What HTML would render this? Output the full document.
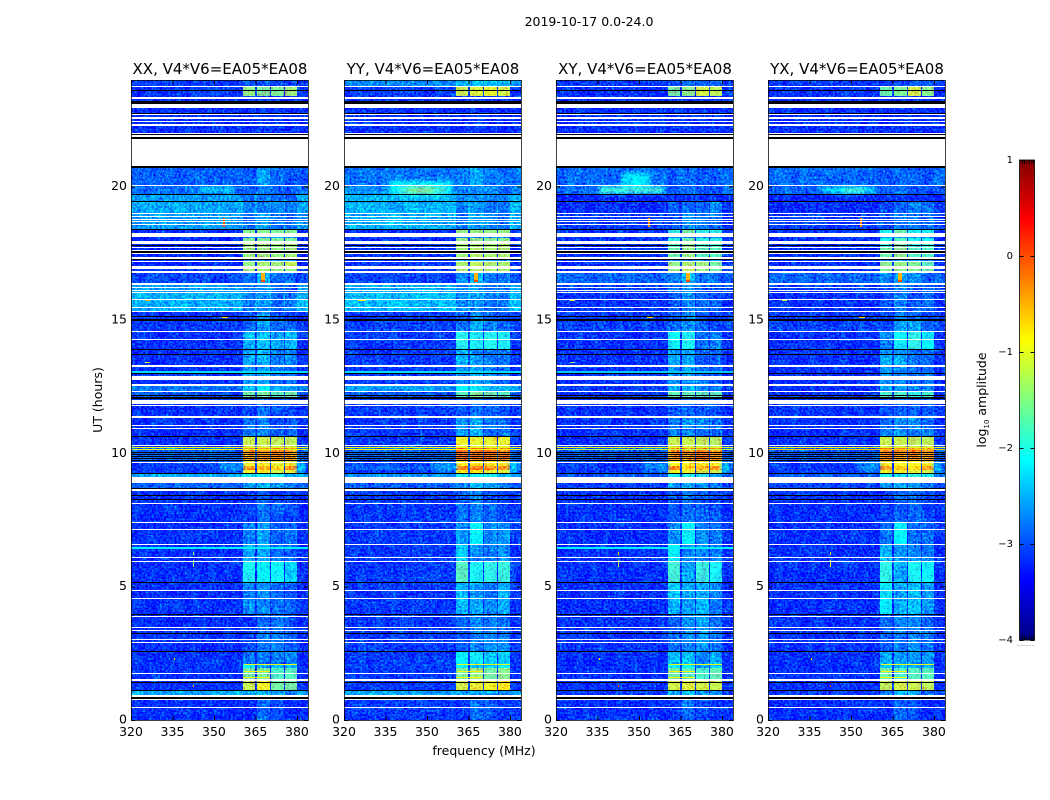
<!DOCTYPE html>
<html lang="en">
<head>
<meta charset="utf-8">
<title>2019-10-17 dynamic spectra</title>
<style>
html,body{margin:0;padding:0;background:#fff;width:1050px;height:800px;overflow:hidden}
svg{display:block}
text{font-family:"DejaVu Sans","Liberation Sans",sans-serif;fill:#000}
</style>
</head>
<body>
<svg id="figure" xmlns="http://www.w3.org/2000/svg" width="1050" height="800" viewBox="0 0 1050 800">
<defs>
<filter id="soften" x="-30%" y="-80%" width="160%" height="260%" color-interpolation-filters="sRGB"><feGaussianBlur stdDeviation="2.2"/></filter>
<filter id="speckle-0" x="131" y="80" width="177" height="640" filterUnits="userSpaceOnUse" color-interpolation-filters="sRGB"><feTurbulence type="fractalNoise" baseFrequency="0.48" numOctaves="2" seed="3" result="n"/><feColorMatrix in="n" type="matrix" values="0 0 0 0 .5  1 0 0 0 0  .5 0 0 0 .33  0 0 0 0 1" result="m"/><feTurbulence type="fractalNoise" baseFrequency="0.12 0.07" numOctaves="2" seed="5" result="c"/><feColorMatrix in="c" type="matrix" values="0 0 0 0 .5  1 0 0 0 0  0 0 0 0 .5  0 0 0 0 1" result="d"/><feComposite in="SourceGraphic" in2="m" operator="arithmetic" k1="0" k2="1" k3="1.2" k4="-0.6" result="s"/><feComposite in="s" in2="d" operator="arithmetic" k1="0" k2="1" k3="0.4" k4="-0.2"/></filter>
<filter id="speckle-1" x="344" y="80" width="177" height="640" filterUnits="userSpaceOnUse" color-interpolation-filters="sRGB"><feTurbulence type="fractalNoise" baseFrequency="0.48" numOctaves="2" seed="11" result="n"/><feColorMatrix in="n" type="matrix" values="0 0 0 0 .5  1 0 0 0 0  .5 0 0 0 .33  0 0 0 0 1" result="m"/><feTurbulence type="fractalNoise" baseFrequency="0.12 0.07" numOctaves="2" seed="13" result="c"/><feColorMatrix in="c" type="matrix" values="0 0 0 0 .5  1 0 0 0 0  0 0 0 0 .5  0 0 0 0 1" result="d"/><feComposite in="SourceGraphic" in2="m" operator="arithmetic" k1="0" k2="1" k3="1.2" k4="-0.6" result="s"/><feComposite in="s" in2="d" operator="arithmetic" k1="0" k2="1" k3="0.4" k4="-0.2"/></filter>
<filter id="speckle-2" x="556" y="80" width="177" height="640" filterUnits="userSpaceOnUse" color-interpolation-filters="sRGB"><feTurbulence type="fractalNoise" baseFrequency="0.48" numOctaves="2" seed="23" result="n"/><feColorMatrix in="n" type="matrix" values="0 0 0 0 .5  1 0 0 0 0  .5 0 0 0 .33  0 0 0 0 1" result="m"/><feTurbulence type="fractalNoise" baseFrequency="0.12 0.07" numOctaves="2" seed="29" result="c"/><feColorMatrix in="c" type="matrix" values="0 0 0 0 .5  1 0 0 0 0  0 0 0 0 .5  0 0 0 0 1" result="d"/><feComposite in="SourceGraphic" in2="m" operator="arithmetic" k1="0" k2="1" k3="1.2" k4="-0.6" result="s"/><feComposite in="s" in2="d" operator="arithmetic" k1="0" k2="1" k3="0.4" k4="-0.2"/></filter>
<filter id="speckle-3" x="768" y="80" width="177" height="640" filterUnits="userSpaceOnUse" color-interpolation-filters="sRGB"><feTurbulence type="fractalNoise" baseFrequency="0.48" numOctaves="2" seed="37" result="n"/><feColorMatrix in="n" type="matrix" values="0 0 0 0 .5  1 0 0 0 0  .5 0 0 0 .33  0 0 0 0 1" result="m"/><feTurbulence type="fractalNoise" baseFrequency="0.12 0.07" numOctaves="2" seed="41" result="c"/><feColorMatrix in="c" type="matrix" values="0 0 0 0 .5  1 0 0 0 0  0 0 0 0 .5  0 0 0 0 1" result="d"/><feComposite in="SourceGraphic" in2="m" operator="arithmetic" k1="0" k2="1" k3="1.2" k4="-0.6" result="s"/><feComposite in="s" in2="d" operator="arithmetic" k1="0" k2="1" k3="0.4" k4="-0.2"/></filter>
</defs>
<rect x="0" y="0" width="1050" height="800" fill="#fff"/>
<text x="589" y="26" font-size="12.5" text-anchor="middle">2019-10-17 0.0-24.0</text>
<text x="484" y="755" font-size="12.5" text-anchor="middle">frequency (MHz)</text>
<text transform="translate(102,400) rotate(-90)" font-size="12.5" text-anchor="middle">UT (hours)</text>
<text transform="translate(986,400) rotate(-90)" font-size="12.5" text-anchor="middle">log<tspan font-size="7" dy="3">10</tspan><tspan dy="-3"> amplitude</tspan></text>
</svg>
<script>
// Axis data
const panelTitles = ["XX, V4*V6=EA05*EA08", "YY, V4*V6=EA05*EA08", "XY, V4*V6=EA05*EA08", "YX, V4*V6=EA05*EA08"];
const freqTicks = [320, 335, 350, 365, 380];
const utTicks = [0, 5, 10, 15, 20];
const colorTicks = [1, 0, -1, -2, -3, -4];
const colorTickLabels = ["1", "0", "\u22121", "\u22122", "\u22123", "\u22124"];

// Spectral windows in MHz
const spwEdges = [[360.5, 365.0], [365.6, 370.1], [370.7, 375.2], [375.8, 380.2]];

// Time band edges in UT hours, descending (55 bands)
const bandEdges = [24, 23.738, 23.4, 22.95, 22.5, 22.05, 21.8, 20.738, 20.063, 19.688, 19.425, 19.013, 18.413, 18.113, 17.963, 17.7, 17.325, 17.025, 16.8, 16.388, 16.013, 15.3, 15, 14.588, 13.913, 13.275, 12.563, 12.3, 12.038, 11.85, 11.325, 10.65, 10.238, 9.713, 9.638, 9.525, 9.375, 9.244, 9.113, 8.888, 8.625, 8.1, 7.388, 6.563, 5.925, 5.175, 3.938, 3.225, 2.588, 2.1, 1.95, 1.5, 1.088, 0.9, 0.45, 0];

// log10 amplitude per band: [outside windows, window 1, window 2, window 3, window 4]
const levelsXX = [
[-3,-2.7,-2.7,-2.8,-2.8],[-3,-1.4,-1.5,-1.5,-1.35],[-3.05,-2.9,-2.8,-2.9,-2.9],[-3.05,-2.95,-2.85,-2.9,-2.95],[-3.05,-2.95,-2.85,-2.9,-2.95],
[-3.1,-3,-3,-3,-3],[-3.1,-3,-3,-3,-3],[-2.8,-2.7,-2.4,-2.55,-2.7],[-2.75,-2.6,-2.5,-2.6,-2.7],[-2.5,-2.6,-2.5,-2.55,-2.65],
[-2.45,-2.55,-2.45,-2.5,-2.6],[-2.5,-2.6,-2.35,-2.55,-2.6],[-3.05,-1.5,-1.45,-1.5,-1.5],[-3.1,-1.5,-1.5,-1.5,-1.5],[-3.1,-1.35,-1.35,-1.4,-1.35],
[-3.1,-1.4,-1.35,-1.4,-1.35],[-3.1,-1.4,-1.3,-1.35,-1.2],[-3,-1.35,-1.35,-1.4,-1.4],[-2.95,-2.5,-2.3,-2.6,-2.6],[-2.5,-2.55,-2.4,-2.6,-2.7],
[-2.4,-2.55,-2.4,-2.6,-2.6],[-3.05,-2.7,-2.45,-2.7,-2.8],[-3,-2.6,-2.35,-2.6,-2.6],[-3.05,-2.25,-2.15,-2.3,-2.25],[-3.05,-2.3,-2.2,-2.5,-2.5],
[-3.05,-2.4,-2.3,-2.6,-2.6],[-2.7,-2.2,-2.1,-2.3,-2.3],[-2.9,-1.6,-1.55,-1.7,-1.6],[-3,-2.8,-2.6,-2.7,-2.7],[-3.05,-2.8,-2.6,-2.75,-2.8],
[-3.05,-2.6,-2.5,-2.65,-2.7],[-3.05,-1.15,-1.15,-1.2,-1.2],[-2.8,-0.4,-0.4,-0.35,-0.4],[-3,-0.95,-0.95,-0.95,-0.95],[-3,-0.9,-0.9,-1,-0.9],
[-3,-0.4,-0.55,-0.7,-0.35],[-3,-0.9,-0.9,-1.1,-1],[-2.4,-2,-2,-1.95,-2.2],[-2.4,-2.4,-2.4,-2.4,-2.4],[-2.8,-2.4,-2.2,-2.4,-2.5],
[-3.05,-2.85,-2.7,-2.8,-2.85],[-3.05,-2.8,-2.6,-2.7,-2.75],[-3.05,-2.5,-2.35,-2.65,-2.6],[-3.05,-2.3,-2.3,-2.6,-2.65],[-3.05,-2,-2.1,-2.05,-2.15],
[-3.05,-2.5,-2.45,-2.6,-2.65],[-3.05,-2.85,-2.6,-2.55,-2.75],[-3.05,-2.8,-2.55,-2.5,-2.7],[-3.05,-2.55,-2.55,-2.55,-2.5],[-3.05,-2.1,-2.2,-2.3,-2.2],
[-3.05,-1.6,-1.55,-1.75,-1.7],[-3.05,-1.15,-0.95,-1.55,-1.55],[-2.45,-2.4,-2.3,-2.4,-2.5],[-3.05,-2.9,-2.6,-2.75,-2.9],[-3.05,-2.95,-2.65,-2.75,-2.95]];
const levelsYY = [
[-2.6,-2.2,-2.2,-2.2,-2.2],[-3,-1.15,-1.05,-1,-1.1],[-3.05,-2.9,-2.8,-2.9,-2.9],[-3.05,-2.95,-2.85,-2.9,-2.95],[-3.05,-2.95,-2.85,-2.9,-2.95],
[-3.1,-3,-3,-3,-3],[-3.1,-3,-3,-3,-3],[-2.7,-2.5,-2.3,-2.5,-2.6],[-2.6,-2.5,-2.4,-2.5,-2.6],[-2.4,-2.45,-2.4,-2.5,-2.5],
[-2.4,-2.5,-2.4,-2.5,-2.55],[-2.4,-2.55,-2.35,-2.5,-2.55],[-3.05,-1.4,-1.4,-1.4,-1.4],[-3.05,-1.4,-1.4,-1.45,-1.45],[-3.05,-1.3,-1.3,-1.3,-1.3],
[-3.05,-1.35,-1.25,-1.3,-1.3],[-3,-1.3,-1.2,-1.3,-1.3],[-3,-1.3,-1.25,-1.3,-1.3],[-2.95,-2.4,-2.2,-2.5,-2.5],[-2.45,-2.5,-2.4,-2.6,-2.6],
[-2.35,-2.5,-2.4,-2.55,-2.55],[-3,-2.6,-2.45,-2.6,-2.7],[-2.95,-2.55,-2.3,-2.5,-2.6],[-3,-1.95,-2,-1.95,-2],[-3,-2.2,-2.4,-2.55,-2.5],
[-3,-2.4,-2.3,-2.5,-2.6],[-2.5,-2.1,-2.1,-2.2,-2.2],[-2.85,-1.7,-1.5,-1.6,-1.7],[-3,-2.8,-2.6,-2.7,-2.7],[-3,-2.75,-2.55,-2.7,-2.75],
[-3,-2.4,-2.3,-2.55,-2.55],[-3,-0.95,-1,-1,-1],[-2.8,-0.2,-0.2,-0.2,-0.25],[-3,-0.9,-0.9,-0.9,-0.9],[-2.9,-0.8,-0.7,-0.8,-0.85],
[-2.8,-0.25,-0.2,-0.35,-0.4],[-3,-0.8,-0.8,-1,-1],[-2.55,-2,-2,-2,-2.2],[-2.55,-2.5,-2.5,-2.5,-2.5],[-2.85,-2.5,-2.2,-2.4,-2.5],
[-3,-2.7,-2.5,-2.7,-2.8],[-3,-2.6,-2.5,-2.6,-2.8],[-3,-2.35,-2.1,-2.45,-2.4],[-3,-2.15,-2.45,-2.55,-2.4],[-3,-1.7,-2,-1.9,-1.85],
[-3,-2.2,-2.3,-2.5,-2.3],[-3,-2.7,-2.5,-2.5,-2.6],[-3,-2.7,-2.5,-2.4,-2.5],[-3,-2.1,-2.05,-2.15,-2.15],[-3,-2.1,-2.15,-2.15,-2.1],
[-3,-1.55,-1.4,-1.55,-1.45],[-3,-1.1,-1,-0.95,-0.8],[-2.45,-2.3,-2.2,-2.3,-2.5],[-3,-2.9,-2.6,-2.7,-2.9],[-3,-2.9,-2.6,-2.7,-2.9]];
const levelsXY = [
[-3,-2.8,-2.6,-2.6,-2.6],[-3.05,-1.55,-1.45,-1.1,-1.2],[-3.05,-2.9,-2.85,-2.9,-2.9],[-3.05,-2.9,-2.85,-2.9,-2.9],[-3.05,-2.9,-2.85,-2.9,-2.9],
[-3.1,-3,-3,-3,-3],[-3.1,-3,-3,-3,-3],[-2.75,-2.7,-2.6,-2.7,-2.7],[-2.75,-2.7,-2.6,-2.7,-2.7],[-3.1,-2.95,-2.9,-2.9,-2.9],
[-3.05,-2.7,-2.6,-2.55,-2.5],[-3,-2.7,-2.4,-2.5,-2.6],[-3.05,-1.9,-1.55,-1.9,-1.9],[-3.05,-1.9,-1.6,-1.9,-1.9],[-3.05,-1.7,-1.45,-1.7,-1.75],
[-3.05,-1.6,-1.4,-1.7,-1.7],[-3.05,-1.4,-1.3,-1.35,-1.55],[-3.05,-1.4,-1.2,-1.4,-1.6],[-2.8,-2.5,-2.2,-2.55,-2.6],[-2.95,-2.6,-2.4,-2.7,-2.7],
[-3.05,-2.7,-2.45,-2.6,-2.7],[-3,-2.7,-2.4,-2.7,-2.8],[-2.95,-2.65,-2.4,-2.65,-2.75],[-3.05,-2.05,-2,-2.6,-2.5],[-3.05,-2.3,-2.35,-2.65,-2.7],
[-3.05,-2.4,-2.4,-2.55,-2.7],[-3,-2.3,-2.2,-2.4,-2.5],[-3.05,-1.65,-1.65,-1.7,-1.7],[-3.05,-2.8,-2.6,-2.7,-2.7],[-3.05,-2.7,-2.6,-2.7,-2.8],
[-3.05,-2.5,-2.45,-2.5,-2.6],[-3.05,-1.15,-1.15,-1.2,-1.25],[-2.85,-0.35,-0.35,-0.2,-0.35],[-3,-0.9,-0.9,-0.9,-0.9],[-3,-0.9,-0.85,-0.9,-0.9],
[-3,-0.3,-0.7,-0.5,-0.4],[-3,-0.95,-0.95,-1.1,-1.1],[-2.9,-2,-1.95,-1.95,-2.3],[-2.9,-2.5,-2.5,-2.5,-2.5],[-3,-2.4,-2.3,-2.45,-2.5],
[-3.05,-2.75,-2.6,-2.7,-2.8],[-3.05,-2.7,-2.6,-2.6,-2.7],[-3.05,-2.45,-2.1,-2.45,-2.55],[-3.05,-2.1,-2.45,-2.45,-2.5],[-3.05,-1.8,-2.3,-1.85,-2],
[-3.05,-2.2,-2.35,-2.25,-2.5],[-3.05,-2.7,-2.45,-2.35,-2.6],[-3.05,-2.6,-2.45,-2.4,-2.55],[-3.05,-2.2,-2.2,-2.45,-2.3],[-3.05,-2.1,-2.1,-2.3,-2.2],
[-3.05,-1.6,-1.7,-1.75,-1.65],[-3.05,-1.1,-1.05,-1.1,-1.15],[-3,-2.3,-2.2,-2.4,-2.5],[-3.05,-2.9,-2.55,-2.7,-2.9],[-3.05,-2.9,-2.6,-2.75,-2.9]];
const levelsYX = [
[-3,-2.9,-2.7,-2.65,-2.7],[-3.05,-1.6,-1.5,-1.1,-1.45],[-3.05,-2.95,-2.9,-2.9,-2.95],[-3.05,-2.95,-2.9,-2.9,-2.95],[-3.05,-2.95,-2.9,-2.9,-2.95],
[-3.1,-3,-3,-3,-3],[-3.1,-3,-3,-3,-3],[-2.75,-2.75,-2.55,-2.7,-2.75],[-2.8,-2.75,-2.6,-2.7,-2.75],[-3.1,-2.9,-2.9,-2.9,-2.9],
[-3.05,-2.75,-2.65,-2.45,-2.55],[-3,-2.7,-2.5,-2.55,-2.6],[-3.05,-2,-1.6,-2,-2],[-3.05,-2,-1.7,-2,-2],[-3.05,-1.85,-1.5,-1.85,-1.85],
[-3.05,-1.6,-1.45,-1.7,-1.75],[-3.05,-1.45,-1.4,-1.5,-1.7],[-3.05,-1.5,-1.45,-1.5,-1.6],[-2.8,-2.5,-2.25,-2.5,-2.6],[-2.95,-2.7,-2.5,-2.7,-2.6],
[-3.05,-2.75,-2.5,-2.7,-2.65],[-3,-2.75,-2.5,-2.6,-2.75],[-2.95,-2.75,-2.35,-2.35,-2.6],[-3.05,-2.5,-2.05,-1.9,-2.1],[-3.05,-2.3,-2.3,-2.6,-2.6],
[-3.05,-2.4,-2.5,-2.6,-2.6],[-3.05,-2.3,-2.4,-2.45,-2.5],[-3.05,-1.75,-1.75,-1.9,-1.8],[-3.05,-2.8,-2.6,-2.7,-2.7],[-3.05,-2.7,-2.6,-2.7,-2.7],
[-3.05,-2.55,-2.45,-2.5,-2.55],[-3.05,-1.15,-1.15,-1.2,-1.2],[-2.85,-0.35,-0.4,-0.3,-0.4],[-3,-0.9,-0.9,-0.9,-0.9],[-3,-0.9,-0.9,-0.9,-0.9],
[-3,-0.4,-0.65,-0.65,-0.45],[-3,-0.95,-0.95,-1.05,-1.1],[-2.85,-2,-2,-1.9,-2],[-2.85,-2.5,-2.5,-2.5,-2.5],[-2.95,-2.4,-2.3,-2.4,-2.5],
[-3.05,-2.85,-2.6,-2.65,-2.75],[-3.05,-2.8,-2.65,-2.65,-2.75],[-3.05,-2.6,-2.1,-2.6,-2.6],[-3.05,-2.2,-2.4,-2.45,-2.5],[-3.05,-1.9,-2.3,-2,-2.05],
[-3.05,-2.1,-2.3,-2.2,-2.4],[-3.05,-2.7,-2.5,-2.45,-2.65],[-3.05,-2.65,-2.5,-2.45,-2.6],[-3.05,-2.3,-2.4,-2.4,-2.4],[-3.05,-2.2,-2.2,-2.3,-2.2],
[-3.05,-1.6,-1.75,-1.7,-1.7],[-3.05,-1.2,-1.1,-1.15,-1.2],[-3,-2.4,-2.2,-2.3,-2.6],[-3.05,-2.95,-2.6,-2.75,-2.95],[-3.05,-2.95,-2.6,-2.75,-2.95]];

// Broad emission patches: [UT low, UT high, MHz low, MHz high, log10 amp]
const patchesXX = [[19.8,19.99,345,357,-2.25],[9.28,9.7,380.2,383,-2.3],[9.3,9.7,352,360.4,-2.7]];
const patchesYY = [[19.65,20.2,336.6,359,-2.15],[19.72,20.02,340,357,-1.8],[19.75,19.95,343,352,-1.4],[9.28,9.7,380.2,383,-2.3],[9.3,9.7,352,360.4,-2.65]];
const patchesXY = [[19.95,20.51,344,354,-2.2],[19.76,19.99,335.5,358.6,-1.8],[9.28,9.7,380.2,383,-2.4],[9.3,9.7,352,360.4,-2.7]];
const patchesYX = [[19.76,19.99,339.5,358.6,-2.25],[19.78,19.95,347,355,-1.75],[9.28,9.7,380.2,383,-2.35],[9.3,9.7,352,360.4,-2.7]];

// Narrow interference: [UT low, UT high, MHz low, MHz high, log10 amp]
const rfiXX = [[18.49,18.83,353.4,353.9,0],[16.43,16.76,367,368.5,-0.5],[16.43,16.5,367,368.5,0],[6.19,6.3,342.3,342.7,-1.4],[5.74,6,342.3,342.7,-1.4],[2.25,2.325,335.4,335.9,-0.7],[1.24,1.31,342.3,342.8,-0.5],[15.71,15.75,325,327,-0.5],[13.39,13.43,325,327,-1],[15.09,15.13,353,355,-0.7],[6.43,6.47,320,384,-2.2],[10.2,10.238,320,384,-1],[10.12,10.16,320,384,-1],[13.03,13.07,320,384,-2.3]];
const rfiYY = [[16.43,16.76,367,368.5,-0.5],[16.43,16.5,367,368.5,0],[15.71,15.75,325,328,-0.9],[10.2,10.238,320,384,-1],[10.12,10.16,320,384,-0.9],[13.03,13.07,320,384,-2.3]];
const rfiXY = [[18.49,18.83,353.4,353.9,-0.3],[16.43,16.76,367,368.5,-0.5],[16.43,16.5,367,368.5,0],[6.19,6.3,342.3,342.7,-0.7],[5.74,6,342.3,342.7,-1.2],[2.25,2.325,335.4,335.9,-0.8],[1.24,1.31,342.3,342.8,0],[15.71,15.75,325,327,-1],[13.39,13.43,325,327,-1.5],[15.09,15.13,353,355,-0.7],[6.43,6.47,320,384,-2.2],[10.2,10.238,320,384,-1],[10.12,10.16,320,384,-1.2],[13.03,13.07,320,384,-2.4]];
const rfiYX = [[18.49,18.83,353.4,353.9,-0.3],[16.43,16.76,367,368.5,-0.5],[16.43,16.5,367,368.5,0],[6.19,6.3,342.3,342.7,-0.8],[5.74,6,342.3,342.7,-1],[2.25,2.325,335.4,335.9,-0.8],[1.24,1.31,342.3,342.8,0],[15.71,15.75,325,327,-1.2],[15.09,15.13,353,355,-0.7],[10.2,10.238,320,384,-1],[10.12,10.16,320,384,-0.6]];

// Bright narrow lines and dim gaps inside windows: [UT low, UT high, MHz low, MHz high, log10 amp]
const spwLines = [[2.06,2.1,361,380,-1],[1.8,1.84,361,370.1,-0.8],[1.58,1.62,360.5,370.1,-0.85]];
const spwDips = [[18.06,18.113,360.5,380.2,-2.7],[17.21,17.344,360.5,380.2,-2.7],[17.5,17.55,360.5,380.2,-2.7],[16.97,17.01,360.5,380.2,-2.7]];

// Flagged times: [UT low, UT high]
const whiteFlags = [[23.719,23.775],[23.306,23.344],[22.95,23.111],[22.676,22.725],[22.556,22.594],[22.444,22.481],[22.286,22.35],[21.986,22.031],[21.881,21.919],[20.775,21.799],[20.044,20.081],[18.994,19.031],[18.874,18.911],[18.761,18.799],[18.664,18.701],[18.563,18.6],[18.113,18.263],[17.85,17.963],[17.689,17.738],[17.588,17.625],[17.494,17.531],[17.306,17.344],[17.186,17.224],[16.913,17.025],[16.781,16.819],[16.313,16.388],[16.189,16.238],[16.088,16.125],[16.001,16.039],[15.761,15.799],[15.439,15.476],[15.3,15.338],[14.569,14.606],[14.243,14.299],[13.256,13.313],[12.761,12.9],[12.536,12.6],[12.289,12.338],[11.85,12],[11.775,11.813],[11.325,11.4],[11.025,11.081],[10.901,10.939],[10.264,10.301],[9.626,9.664],[8.888,9.094],[8.599,8.663],[8.089,8.126],[7.376,7.414],[7.114,7.151],[6.551,6.589],[6.064,6.101],[5.914,5.951],[4.826,4.864],[4.526,4.564],[3.874,3.911],[3.439,3.476],[3.319,3.375],[2.989,3.026],[2.888,2.925],[1.714,1.751],[1.463,1.519],[0.844,0.938],[0.75,0.788],[0.45,0.488]];
const blackFlags = [[23.588,23.625],[23.344,23.374],[23.111,23.213],[22.725,22.763],[21.938,21.975],[21.799,21.881],[20.711,20.775],[19.669,19.725],[19.425,19.463],[18.386,18.424],[17.775,17.813],[17.531,17.588],[17.25,17.306],[15.113,15.15],[14.981,15.038],[13.875,13.913],[13.688,13.725],[12.975,13.013],[12.15,12.188],[12.038,12.094],[10.613,10.65],[10.0125,10.05],[9.9375,9.975],[9.8625,9.9],[9.7875,9.825],[9.7125,9.75],[9.214,9.251],[8.663,8.7],[8.4,8.438],[8.25,8.288],[5.126,5.164],[3.938,3.986],[3.225,3.263],[2.55,2.588],[1.376,1.425],[1.088,1.125],[0.806,0.844]];

const panelLevels = [levelsXX, levelsYY, levelsXY, levelsYX];
const panelPatches = [patchesXX, patchesYY, patchesXY, patchesYX];
const panelRfi = [rfiXX, rfiYY, rfiXY, rfiYX];

// Layout
const NS = "http://www.w3.org/2000/svg";
const svg = document.getElementById("figure");
const panelLeft = [131, 344, 556, 768];
const plotW = 177, plotTop = 80, plotH = 640;
const fMin = 320, fMax = 384, utMin = 0, utMax = 24;
const cbLeft = 1019.5, cbW = 15, cbTop = 160, cbH = 480, cMin = -4, cMax = 1;
// Calibration of displayed colour against read levels
const baseBias = -0.1, quietWindowBias = -0.25, quietWindowLimit = -2.1;

function xOf(p, f) { return panelLeft[p] + (f - fMin) / (fMax - fMin) * plotW; }
function yOf(ut) { return plotTop + (utMax - ut) / (utMax - utMin) * plotH; }
function cOf(v) { return cbTop + (cMax - v) / (cMax - cMin) * cbH; }

function jet(v) {
  const t = Math.max(0, Math.min(1, (v - cMin) / (cMax - cMin)));
  const ch = function (x) { return Math.round(255 * Math.max(0, Math.min(1, 1.5 - Math.abs(4 * t - x)))); };
  return "rgb(" + ch(3) + "," + ch(2) + "," + ch(1) + ")";
}

function rect(parent, x, y, w, h, fill) {
  const r = document.createElementNS(NS, "rect");
  r.setAttribute("x", x);
  r.setAttribute("y", y);
  r.setAttribute("width", w);
  r.setAttribute("height", h);
  r.setAttribute("fill", fill);
  parent.appendChild(r);
  return r;
}

function snapped(parent, p, m) {
  const x0 = Math.round(xOf(p, m[2]));
  const x1 = Math.round(xOf(p, m[3]));
  const y0 = Math.round(yOf(m[1]));
  const y1 = Math.round(yOf(m[0]));
  return rect(parent, x0, y0, Math.max(1, x1 - x0), Math.max(1, y1 - y0), jet(m[4]));
}

function flagRow(parent, p, m, fill) {
  const y0 = Math.round(yOf(m[1]));
  const y1 = Math.round(yOf(m[0]));
  return rect(parent, panelLeft[p], y0, plotW, Math.max(1, y1 - y0), fill);
}

function group(parent) {
  const g = document.createElementNS(NS, "g");
  parent.appendChild(g);
  return g;
}

function label(str, x, y, anchor, size) {
  const t = document.createElementNS(NS, "text");
  t.setAttribute("x", x);
  t.setAttribute("y", y);
  t.setAttribute("text-anchor", anchor);
  t.setAttribute("font-size", size);
  t.textContent = str;
  svg.appendChild(t);
  return t;
}

panelTitles.forEach(function (title, p) {
  const L = panelLeft[p];
  const clipId = "clip-" + p;
  const defs = svg.querySelector("defs");
  const clip = document.createElementNS(NS, "clipPath");
  clip.setAttribute("id", clipId);
  rect(clip, L, plotTop, plotW + 0.5, plotH + 0.5, "#000");
  defs.appendChild(clip);

  const panel = group(svg);
  
  
  panel.setAttribute("clip-path", "url(#" + clipId + ")");

  const heat = group(panel);
  
  
  heat.setAttribute("filter", "url(#speckle-" + p + ")");
  heat.setAttribute("shape-rendering", "crispEdges");

  panelLevels[p].forEach(function (row, b) {
    const y0 = Math.round(yOf(bandEdges[b]));
    const y1 = Math.round(yOf(bandEdges[b + 1]));
    const whole = rect(heat, L, y0, plotW + 1, y1 - y0, jet(row[0] + baseBias));
    
    
    spwEdges.forEach(function (edge, s) {
      const x0 = Math.round(xOf(p, edge[0]));
      const x1 = Math.round(xOf(p, edge[1]));
      const v = row[s + 1] < quietWindowLimit ? row[s + 1] + quietWindowBias : row[s + 1];
      const cell = rect(heat, x0, y0, x1 - x0, y1 - y0, jet(v));
      
      
    });
  });

  spwDips.forEach(function (m) {
    const dip = snapped(heat, p, m);
    
    
  });

  const soft = group(heat);
  
  
  soft.setAttribute("filter", "url(#soften)");
  panelPatches[p].forEach(function (m) {
    const patch = snapped(soft, p, m);
    
    
  });

  const spots = group(panel);
  
  
  spots.setAttribute("shape-rendering", "crispEdges");
  panelRfi[p].concat(spwLines).forEach(function (m) {
    const spot = snapped(spots, p, m);
    
    
  });

  const masks = group(panel);
  
  
  masks.setAttribute("shape-rendering", "crispEdges");
  blackFlags.forEach(function (m) {
    const flag = flagRow(masks, p, m, "#000");
    
    
  });
  whiteFlags.forEach(function (m) {
    const flag = flagRow(masks, p, m, "#fff");
    
    
  });

  const frame = rect(svg, L + 0.5, plotTop + 0.5, plotW, plotH, "none");
  frame.setAttribute("stroke", "#000");
  frame.setAttribute("stroke-width", "1");
  frame.setAttribute("stroke-opacity", "0.75");
  
  

  const ticks = group(svg);
  
  
  ticks.setAttribute("shape-rendering", "crispEdges");
  freqTicks.forEach(function (f) {
    const x = xOf(p, f);
    rect(ticks, x, plotTop, 1, 4, "#000");
    rect(ticks, x, plotTop + plotH - 4, 1, 4, "#000");
    const tl = label(String(f), x, 736, "middle", 12.5);
    
    
  });
  utTicks.forEach(function (u) {
    const y = yOf(u);
    rect(ticks, L, y, 4, 1, "#000");
    rect(ticks, L + plotW - 4, y, 4, 1, "#000");
    const tl = label(String(u), L - 4, y + 3.5, "end", 12.5);
    
    
  });

  const tt = label(title, L + plotW / 2 + 0.5, 74, "middle", 15);
  
  
});

// Colorbar
const cb = group(svg);


cb.setAttribute("shape-rendering", "crispEdges");
for (let v = cMax; v > cMin; v -= 0.02) {
  rect(cb, cbLeft, cOf(v), cbW, cOf(v - 0.02) - cOf(v) + 0.5, jet(v - 0.01));
}
colorTicks.forEach(function (v, i) {
  const y = cOf(v);
  rect(cb, cbLeft, y, 4, 1, "#000");
  rect(cb, cbLeft + cbW - 4, y, 4, 1, "#000");
  const tl = label(colorTickLabels[i], 1013, y + 3, "end", 10);
  
  
});
for (let k = 0; k < 6; k++) {
  const tx = cbLeft + 2.5 + k * 2.2;
  rect(cb, tx, cbTop, 0.8, 4, "#000");
  rect(cb, tx, cbTop + cbH - 4, 0.8, 4, "#000");
  rect(cb, cbLeft - 2 + k * 3, cbTop + cbH + 5, 1, 1, "#888");
}
const cbFrame = rect(svg, cbLeft, cbTop, cbW, cbH, "none");
cbFrame.setAttribute("stroke", "#000");
cbFrame.setAttribute("stroke-width", "1");
cbFrame.setAttribute("stroke-opacity", "0.8");


</script>
</body>
</html>
